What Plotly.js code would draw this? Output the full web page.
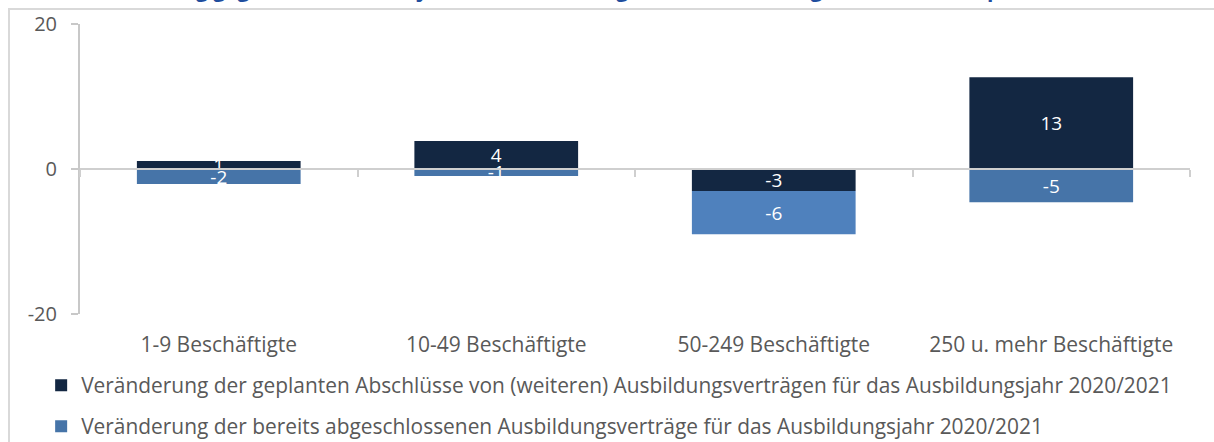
<!DOCTYPE html>
<html>
<head>
<meta charset="utf-8">
<script src="https://cdn.plot.ly/plotly-3.0.1.min.js"></script>
<style>
  html, body { margin: 0; padding: 0; background: #ffffff; overflow: hidden; }
  #frame { position: absolute; left: 8px; top: 8px; width: 1206px; height: 434px;
           border-left: 2px solid #d9d9d9; border-top: 2px solid #d9d9d9; z-index: 0; }
  #chart { position: absolute; left: 0; top: 0; width: 1214px; height: 442px; z-index: 1; }
</style>
</head>
<body>
<div id="frame"></div>
<div id="chart"></div>
<script>
// ---- data ----
const categories = ["1-9 Beschäftigte", "10-49 Beschäftigte", "50-249 Beschäftigte", "250 u. mehr Beschäftigte"];
const plannedChange = [1.1, 3.85, -3.03, 12.65];     // geplante Abschlüsse
const concludedChange = [-2.07, -0.95, -5.98, -4.6]; // bereits abgeschlossene
const seriesNames = [
  "Veränderung der geplanten Abschlüsse von (weiteren) Ausbildungsverträgen für das Ausbildungsjahr 2020/2021",
  "Veränderung der bereits abgeschlossenen Ausbildungsverträge für das Ausbildungsjahr 2020/2021"
];
const yTicks = [-20, 0, 20];
const yTickLabels = ["-20", "0", "20"];
const titleText = "Veränderung gegenüber dem Vorjahr, nach Betriebsgrößenklassen; Angaben in Prozentpunkten";

const FONT = "Open Sans, Noto Sans, sans-serif";

const traces = [
  {
    type: "bar", name: seriesNames[0], x: categories, y: plannedChange,
    marker: { color: "#132742" },
    texttemplate: "%{y:.0f}", textposition: "inside", insidetextanchor: "middle", textangle: 0,
    textfont: { color: "#ffffff", size: 19, family: FONT },
    legendgroup: "a", hoverinfo: "skip"
  },
  {
    type: "bar", name: seriesNames[1], x: categories, y: concludedChange,
    marker: { color: ["#4674a8", "#4674a8", "#4f81bd", "#4674a8"] },
    texttemplate: "%{y:.0f}", textposition: "inside", insidetextanchor: "middle", textangle: 0,
    textfont: { color: "#ffffff", size: 19, family: FONT },
    legendgroup: "b", hoverinfo: "skip"
  }
];

// invisible trace on xaxis2 so the overlay axis (the zero line with tick marks) is drawn
traces.push({ type: "scatter", x: [0], y: [0], xaxis: "x2", mode: "markers",
  marker: { opacity: 0 }, showlegend: false, hoverinfo: "skip" });

const layout = {
  width: 1214, height: 442,
  margin: { l: 80, r: 24, t: 24, b: 128, autoexpand: false },
  paper_bgcolor: "rgba(0,0,0,0)", plot_bgcolor: "rgba(0,0,0,0)",
  barmode: "relative", bargap: 0.41,
  font: { family: FONT, color: "#595959", size: 19 },
  uniformtext: { mode: "show", minsize: 19 },
  showlegend: true,
  legend: {
    orientation: "v", x: -0.035, xanchor: "left", y: -0.176, yanchor: "top",
    font: { size: 20.9, color: "#595959", family: FONT },
    bgcolor: "rgba(0,0,0,0)",
    traceorder: "grouped", tracegroupgap: 11, itemclick: false
  },
  xaxis: {
    type: "category", showline: false, showgrid: false, zeroline: false,
    ticks: "", ticklabelstandoff: 16, tickfont: { size: 21, color: "#595959" },
    range: [-0.5, 3.5]
  },
  xaxis2: {
    overlaying: "x", anchor: "free", position: 0.5, side: "bottom",
    range: [-0.5, 3.5], showline: true, linecolor: "#cfcfcf", linewidth: 2,
    ticks: "outside", ticklen: 7, tickwidth: 2, tickcolor: "#cfcfcf",
    tickvals: [-0.5, 0.5, 1.5, 2.5, 3.5], showticklabels: false,
    showgrid: false, zeroline: false, layer: "above traces"
  },
  yaxis: {
    range: [-20, 20], tickvals: yTicks, ticktext: yTickLabels,
    showline: true, linecolor: "#c8c8c8", linewidth: 2,
    ticks: "outside", ticklen: 7, tickwidth: 2, tickcolor: "#c8c8c8",
    showgrid: true, gridcolor: "#d9d9d9", gridwidth: 2, zeroline: false,
    ticklabelstandoff: 10, tickfont: { size: 20, color: "#595959" }
  },
  annotations: [{
    text: "<b>" + titleText + "</b>", xref: "paper", yref: "paper",
    x: -0.01, xanchor: "left", y: 1, yanchor: "bottom", yshift: 19,
    showarrow: false, font: { size: 21, color: "#1f4e9e", family: FONT }
  }]
};

Plotly.newPlot("chart", traces, layout, { displayModeBar: false, staticPlot: true });
</script>
</body>
</html>
